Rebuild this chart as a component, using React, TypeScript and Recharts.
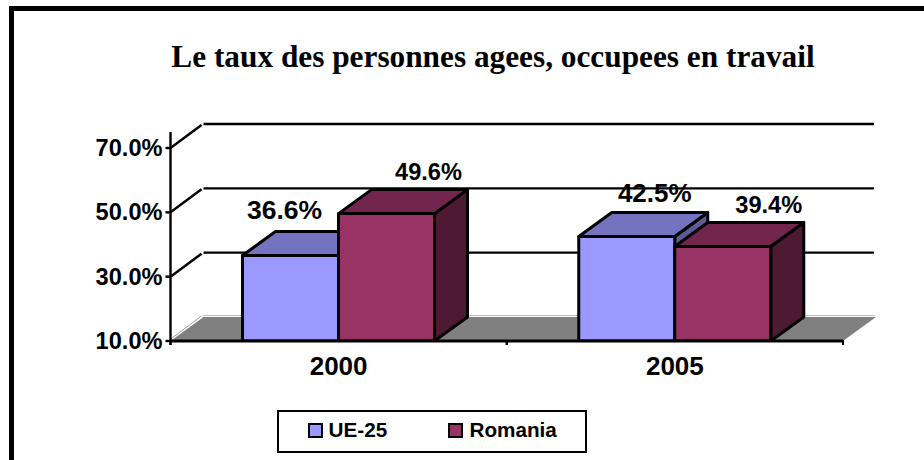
import React from "react";
import {
  Bar,
  BarChart,
  CartesianGrid,
  LabelList,
  Legend,
  XAxis,
  YAxis,
} from "recharts";

const categories = ["2000", "2005"];
const ue25Values = [36.6, 42.5];
const romaniaValues = [49.6, 39.4];
const yTicks = [10, 30, 50, 70];

const data = categories.map((year, index) => ({
  year,
  ue25: ue25Values[index],
  romania: romaniaValues[index],
}));

// depth of the fake 3d box, in pixels
const DX = 33;
const DY = 24;
const LEFT = 170.5;
const RIGHT = 843;
const BAND = (RIGHT - LEFT) / categories.length;

const UE_COLORS = { front: "#9999FF", top: "#7373BF", side: "#5C5C99" };
const RO_COLORS = { front: "#993366", top: "#73264D", side: "#4D1933" };

const Box = (props: any) => {
  const { x, y, width, height, colors } = props;
  const r = x + width;
  const b = y + height;
  return (
    <g stroke="#000" strokeWidth={3} strokeLinejoin="round">
      <polygon
        points={`${r},${y} ${r + DX},${y - DY} ${r + DX},${b - DY} ${r},${b}`}
        fill={colors.side}
      />
      <polygon
        points={`${x},${y} ${x + DX},${y - DY} ${r + DX},${y - DY} ${r},${y}`}
        fill={colors.top}
      />
      <rect x={x} y={y} width={width} height={height} fill={colors.front} />
    </g>
  );
};

// every grid line becomes the back wall line plus the diagonal going to it
const GridLine = (props: any) => {
  const { x1, x2, y1 } = props;
  const isFloor = Math.abs(y1 - 341) < 1;
  if (isFloor) {
    return (
      <g>
        <polygon
          points={`${x1},${y1} ${x1 + DX},${y1 - DY} ${x2 + DX},${y1 - DY} ${x2},${y1}`}
          fill="#808080"
        />
        <line x1={x1 + 33} y1={y1 - 25.5} x2={x2 + 32} y2={y1 - 25.5} stroke="#bbb" strokeWidth={1} />
        <line x1={x1 - 1} y1={y1 - 1} x2={x1 + 31} y2={y1 - 25} stroke="#999" strokeWidth={1} />
      </g>
    );
  }
  return (
    <g stroke="#000" strokeWidth={2.4}>
      <line x1={x1} y1={y1} x2={x1 + 31} y2={y1 - 23} />
      <line x1={x1 + 33} y1={y1 - DY} x2={x2 + 31} y2={y1 - DY} />
    </g>
  );
};

const YTick = (props: any) => {
  const { x, y, payload } = props;
  return (
    <g>
      <text
        x={x - 8}
        y={y + 8}
        textAnchor="end"
        fontFamily="Liberation Sans"
        fontWeight="bold"
        fontSize={23.6}
        fill="#000"
      >
        {payload.value.toFixed(1)}%
      </text>
      <line x1={x - 5} x2={x} y1={y} y2={y} stroke="#000" strokeWidth={2.4} />
      {payload.value === 70 && (
        <line x1={x} x2={x} y1={y} y2={y - 16} stroke="#000" strokeWidth={2.4} />
      )}
      {payload.value === 10 && (
        <line x1={x} x2={x} y1={y} y2={y + 4} stroke="#000" strokeWidth={2.4} />
      )}
    </g>
  );
};

const XTick = (props: any) => {
  const { x, y, payload } = props;
  return (
    <g>
      <text
        x={x}
        y={y + 34}
        textAnchor="middle"
        fontFamily="Liberation Sans"
        fontWeight="bold"
        fontSize={26}
        fill="#000"
      >
        {payload.value}
      </text>
      <line x1={x - BAND / 2} x2={x - BAND / 2} y1={y - 1} y2={y + 4} stroke="#000" strokeWidth={2} />
      <line x1={x + BAND / 2} x2={x + BAND / 2} y1={y - 1} y2={y + 4} stroke="#000" strokeWidth={2} />
    </g>
  );
};

// the labels were dragged by hand in the original, so each one has its own spot
const labelSpots: Record<string, { dx: number; dy: number; size: number }[]> = {
  ue25: [
    { dx: -54, dy: -36, size: 26.5 },
    { dx: -20, dy: -34, size: 26 },
  ],
  romania: [
    { dx: 42, dy: -34, size: 23.6 },
    { dx: 46, dy: -33, size: 23.6 },
  ],
};

const makeLabel = (key: string) => (props: any) => {
  const { x, y, width, value, index } = props;
  const spot = labelSpots[key][index];
  const cx = key === "ue25" ? x + width + spot.dx : x + width / 2 + spot.dx;
  return (
    <text
      x={cx}
      y={y + spot.dy}
      textAnchor="middle"
      fontFamily="Liberation Sans"
      fontWeight="bold"
      fontSize={spot.size}
      fill="#000"
    >
      {value.toFixed(1)}%
    </text>
  );
};

const LegendBox = () => (
  <div
    style={{
      width: 306,
      height: 39,
      border: "2.5px solid #000",
      position: "relative",
      background: "#fff",
      fontFamily: "Liberation Sans",
      fontWeight: "bold",
      fontSize: 20.7,
      color: "#000",
    }}
  >
    {[
      { name: "UE-25", color: UE_COLORS.front, left: 29, textLeft: 49.5 },
      { name: "Romania", color: RO_COLORS.front, left: 169, textLeft: 190.5 },
    ].map((item) => (
      <React.Fragment key={item.name}>
        <span
          style={{
            position: "absolute",
            left: item.left,
            top: 11,
            width: 11,
            height: 11,
            border: "2.5px solid #000",
            background: item.color,
          }}
        />
        <span style={{ position: "absolute", left: item.textLeft, top: 6, lineHeight: "24px" }}>
          {item.name}
        </span>
      </React.Fragment>
    ))}
  </div>
);

export default function App() {
  return (
    <div style={{ position: "absolute", left: 0, top: 0, width: 924, height: 460, overflow: "hidden", background: "#fff" }}>
      <div
        style={{
          position: "absolute",
          left: 8.5,
          top: 6,
          width: 930,
          height: 470,
          borderTop: "5px solid #000",
          borderLeft: "5px solid #000",
          boxSizing: "border-box",
        }}
      />
      <div
        style={{
          position: "absolute",
          left: 0,
          width: 986,
          top: 39,
          textAlign: "center",
          fontFamily: "Liberation Serif",
          fontWeight: "bold",
          fontSize: 31.3,
          lineHeight: "36px",
          color: "#000",
          whiteSpace: "nowrap",
        }}
      >
        Le taux des personnes agees, occupees en travail
      </div>
      <BarChart
        width={924}
        height={460}
        data={data}
        barCategoryGap={72}
        barGap={0}
        margin={{ top: 148, right: 81, left: 90.5, bottom: 36 }}
        style={{ position: "absolute", left: 0, top: 0 }}
      >
        <CartesianGrid vertical={false} horizontal={(p: any) => <GridLine {...p} />} />
        <XAxis
          dataKey="year"
          height={40}
          tickLine={false}
          tickSize={0}
          tickMargin={0}
          interval={0}
          axisLine={{ stroke: "#000", strokeWidth: 3 }}
          tick={(p: any) => <XTick {...p} />}
        />
        <YAxis
          width={80}
          domain={[10, 70]}
          ticks={yTicks}
          tickLine={false}
          tickSize={0}
          tickMargin={0}
          allowDataOverflow
          axisLine={{ stroke: "#000", strokeWidth: 2.4 }}
          tick={(p: any) => <YTick {...p} />}
        />
        <Legend
          content={() => <LegendBox />}
          wrapperStyle={{ position: "absolute", left: 277, top: 410, width: 311, height: 43 }}
        />
        <Bar
          dataKey="ue25"
          isAnimationActive={false}
          shape={(p: any) => <Box {...p} colors={UE_COLORS} />}
        >
          <LabelList dataKey="ue25" content={makeLabel("ue25")} />
        </Bar>
        <Bar
          dataKey="romania"
          isAnimationActive={false}
          shape={(p: any) => <Box {...p} colors={RO_COLORS} />}
        >
          <LabelList dataKey="romania" content={makeLabel("romania")} />
        </Bar>
      </BarChart>
    </div>
  );
}
